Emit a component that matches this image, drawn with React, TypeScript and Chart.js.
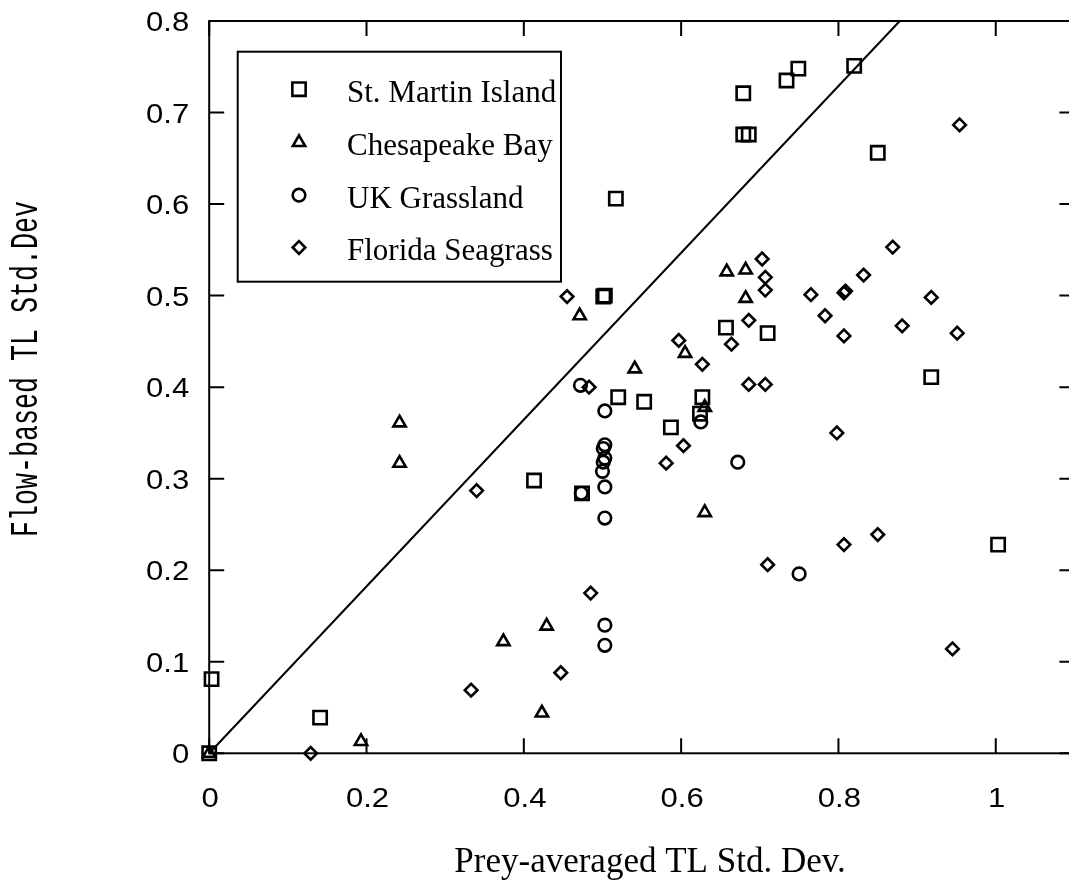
import React, { useEffect, useRef } from 'react';
import { Chart, registerables } from 'chart.js';
import { drawPoint } from 'chart.js/helpers';

Chart.register(...registerables);

// ---------- data ----------
const seriesNames = ['St. Martin Island', 'Chesapeake Bay', 'UK Grassland', 'Florida Seagrass'];

const stMartinX = [0, 0.003, 0.141, 0.413, 0.474, 0.501, 0.503, 0.517, 0.520, 0.553, 0.587, 0.624, 0.627, 0.657, 0.679, 0.679, 0.686, 0.710, 0.734, 0.749, 0.820, 0.850, 0.918, 1.003];
const stMartinY = [0, 0.081, 0.039, 0.298, 0.284, 0.499, 0.500, 0.606, 0.389, 0.384, 0.356, 0.371, 0.389, 0.465, 0.721, 0.676, 0.676, 0.459, 0.735, 0.748, 0.751, 0.656, 0.411, 0.228];

const chesapeakeX = [0, 0.193, 0.242, 0.242, 0.374, 0.423, 0.429, 0.471, 0.541, 0.605, 0.630, 0.630, 0.658, 0.682, 0.682];
const chesapeakeY = [0, 0.013, 0.361, 0.317, 0.122, 0.044, 0.139, 0.478, 0.420, 0.437, 0.378, 0.263, 0.526, 0.528, 0.497];

const ukGrasslandX = [0.472, 0.503, 0.503, 0.501, 0.503, 0.501, 0.500, 0.503, 0.503, 0.473, 0.625, 0.672, 0.750, 0.503, 0.503];
const ukGrasslandY = [0.402, 0.374, 0.337, 0.333, 0.3225, 0.318, 0.308, 0.291, 0.257, 0.284, 0.362, 0.318, 0.196, 0.140, 0.118];

const floridaX = [0.129, 0.333, 0.340, 0.447, 0.455, 0.483, 0.485, 0.581, 0.597, 0.603, 0.627, 0.664, 0.686, 0.686, 0.703, 0.707, 0.707, 0.707, 0.710, 0.765, 0.783, 0.798, 0.807, 0.809, 0.807, 0.807, 0.832, 0.850, 0.869, 0.881, 0.918, 0.945, 0.951, 0.954];
const floridaY = [0, 0.069, 0.287, 0.088, 0.499, 0.400, 0.175, 0.317, 0.451, 0.336, 0.425, 0.447, 0.473, 0.403, 0.540, 0.520, 0.506, 0.403, 0.206, 0.501, 0.478, 0.350, 0.503, 0.505, 0.456, 0.228, 0.5225, 0.239, 0.553, 0.467, 0.498, 0.114, 0.459, 0.6865];

const diagonalX = [0, 0.878];
const diagonalY = [0, 0.8];

const xTickValues = [0, 0.2, 0.4, 0.6, 0.8, 1];
const xTickLabels = ['0', '0.2', '0.4', '0.6', '0.8', '1'];
const yTickValues = [0, 0.1, 0.2, 0.3, 0.4, 0.5, 0.6, 0.7, 0.8];
const yTickLabels = ['0', '0.1', '0.2', '0.3', '0.4', '0.5', '0.6', '0.7', '0.8'];

const xTitle = 'Prey-averaged TL Std. Dev.';
const yTitle = 'Flow-based TL Std.Dev';

// ---------- styles ----------
const pointStyles = ['rect', 'triangle', 'circle', 'rectRot'];
const pointRadii = [9.4, 7.1, 6.3, 6.3];
const markerBorder = 2.6;

const zip = (xs: number[], ys: number[]) => xs.map((x, i) => ({ x, y: ys[i] }));

function stretchedText(ctx: CanvasRenderingContext2D, text: string, x: number, y: number, sx: number, align: CanvasTextAlign) {
  ctx.save();
  ctx.translate(x, y);
  ctx.scale(sx, 1);
  ctx.textAlign = align;
  ctx.textBaseline = 'alphabetic';
  ctx.fillText(text, 0, 0);
  ctx.restore();
}

const framePlugin = {
  id: 'frame',
  beforeDatasetsDraw(chart: any) {
    const { ctx, chartArea, scales } = chart;
    const { left, right, top, bottom } = chartArea;
    const xs = scales.x;
    const ys = scales.y;
    const tl = 15;
    ctx.save();
    ctx.strokeStyle = '#000';
    ctx.lineWidth = 2;
    ctx.lineCap = 'butt';
    ctx.strokeRect(left, top, right - left, bottom - top);
    ctx.beginPath();
    xTickValues.forEach((v) => {
      const px = xs.getPixelForValue(v);
      ctx.moveTo(px, bottom);
      ctx.lineTo(px, bottom - tl);
      ctx.moveTo(px, top);
      ctx.lineTo(px, top + tl);
    });
    yTickValues.forEach((v) => {
      const py = ys.getPixelForValue(v);
      ctx.moveTo(left, py);
      ctx.lineTo(left + tl, py);
      ctx.moveTo(right, py);
      ctx.lineTo(right - tl, py);
    });
    ctx.stroke();

    // tick labels
    ctx.fillStyle = '#000';
    ctx.font = '27px "Liberation Sans", Arial, sans-serif';
    xTickValues.forEach((v, i) => {
      const px = xs.getPixelForValue(v);
      stretchedText(ctx, xTickLabels[i], px + 1, bottom + 53.5, 1.15, 'center');
    });
    yTickValues.forEach((v, i) => {
      const py = ys.getPixelForValue(v);
      stretchedText(ctx, yTickLabels[i], left - 20, py + 10, 1.15, 'right');
    });

    // x title
    ctx.font = '35px "Liberation Serif", "Times New Roman", serif';
    ctx.textAlign = 'center';
    ctx.textBaseline = 'alphabetic';
    ctx.fillText(xTitle, 650, 872);

    // y title (typewriter, rotated)
    ctx.font = '38px "Liberation Mono", monospace';
    const w = ctx.measureText(yTitle).width;
    ctx.save();
    ctx.translate(37, 369);
    ctx.rotate(-Math.PI / 2);
    ctx.scale(336 / w, 1);
    ctx.textAlign = 'center';
    ctx.fillText(yTitle, 0, 0);
    ctx.restore();
    ctx.restore();
  },
  afterDraw(chart: any) {
    const { ctx } = chart;
    ctx.save();
    ctx.strokeStyle = '#000';
    ctx.lineWidth = 2;
    ctx.fillStyle = '#fff';
    ctx.fillRect(237.7, 51.7, 323.3, 230);
    ctx.strokeRect(237.7, 51.7, 323.3, 230);
    const baselines = [101.7, 155, 207.7, 260];
    seriesNames.forEach((name, i) => {
      ctx.save();
      ctx.strokeStyle = '#000';
      ctx.fillStyle = 'rgba(0,0,0,0)';
      ctx.lineWidth = markerBorder;
      drawPoint(ctx, { pointStyle: pointStyles[i], radius: pointRadii[i], rotation: 0, borderWidth: markerBorder } as any, 299, baselines[i] - 12.5);
      ctx.restore();
      ctx.fillStyle = '#000';
      ctx.font = '31px "Liberation Serif", "Times New Roman", serif';
      ctx.textAlign = 'left';
      ctx.textBaseline = 'alphabetic';
      ctx.fillText(name, 347, baselines[i]);
    });
    ctx.restore();
  },
};

export default function App() {
  const canvasRef = useRef<HTMLCanvasElement | null>(null);

  useEffect(() => {
    if (!canvasRef.current) return;
    const seriesData = [
      zip(stMartinX, stMartinY),
      zip(chesapeakeX, chesapeakeY),
      zip(ukGrasslandX, ukGrasslandY),
      zip(floridaX, floridaY),
    ];
    const datasets: any[] = seriesData.map((d, i) => ({
      type: 'scatter',
      label: seriesNames[i],
      data: d,
      pointStyle: pointStyles[i],
      pointRadius: pointRadii[i],
      pointHoverRadius: pointRadii[i],
      pointBorderWidth: markerBorder,
      pointBorderColor: '#000',
      pointBackgroundColor: 'rgba(0,0,0,0)',
      showLine: false,
      clip: false,
    }));
    datasets.push({
      type: 'line',
      label: 'diagonal',
      data: zip(diagonalX, diagonalY),
      borderColor: '#000',
      borderWidth: 2,
      pointRadius: 0,
      fill: false,
      tension: 0,
      clip: false,
    });

    const chart = new Chart(canvasRef.current, {
      type: 'scatter',
      data: { datasets },
      options: {
        responsive: false,
        animation: false,
        events: [],
        layout: { autoPadding: false, padding: { left: 0, top: 21, right: 5.6, bottom: 0 } },
        plugins: { legend: { display: false }, tooltip: { enabled: false } },
        scales: {
          x: {
            type: 'linear',
            min: 0,
            max: 1.1,
            grid: { display: false },
            border: { display: false },
            ticks: { display: false },
            afterFit: (s: any) => { s.height = 882 - 753.3; },
          },
          y: {
            type: 'linear',
            min: 0,
            max: 0.8,
            grid: { display: false },
            border: { display: false },
            ticks: { display: false },
            afterFit: (s: any) => { s.width = 209.2; },
          },
        },
      } as any,
      plugins: [framePlugin],
    });
    return () => chart.destroy();
  }, []);

  return (
    <div style={{ position: 'fixed', left: 0, top: 0, width: '1069px', height: '882px', overflow: 'hidden', background: '#fff' }}>
      <canvas ref={canvasRef} width={1080} height={882} style={{ display: 'block' }} />
    </div>
  );
}
